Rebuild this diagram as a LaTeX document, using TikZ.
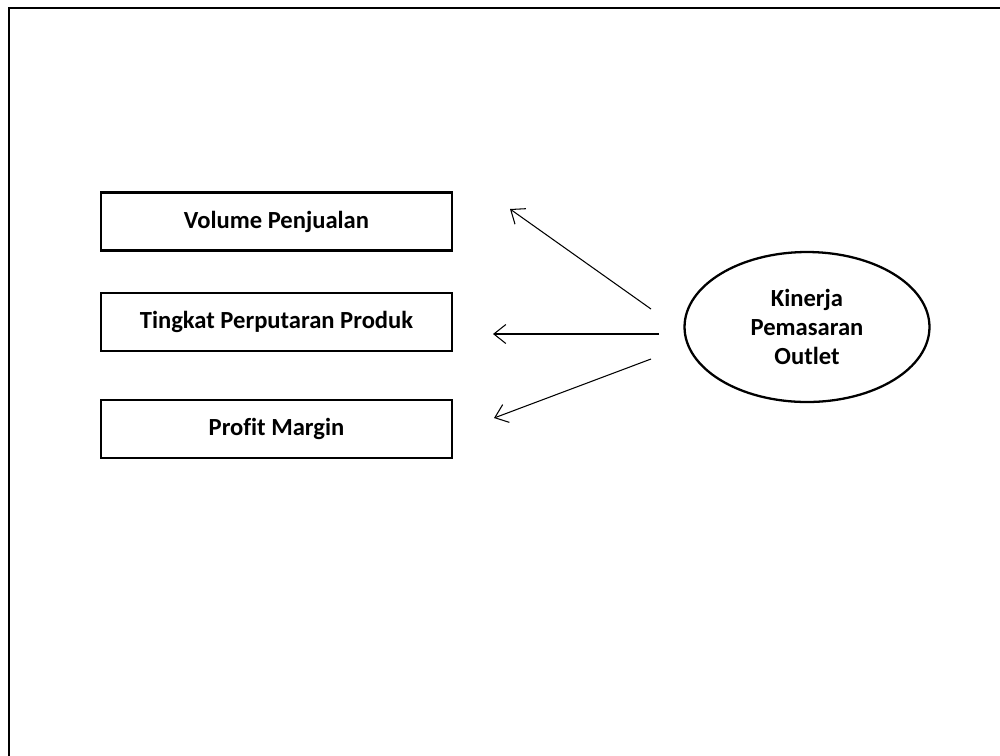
\documentclass[tikz,border=0pt]{standalone}
\usepackage{fontspec}
\setmainfont{Carlito}[Ligatures=NoCommon]
\usetikzlibrary{shapes.geometric, arrows.meta, positioning}
\tikzset{
    indbox/.style={rectangle, draw=black, line width=1.3pt, minimum width=7.02cm,
                   minimum height=1.16cm, align=center, font=\fontsize{14}{16}\selectfont\bfseries},
    latentoval/.style={ellipse, draw=black, line width=1.3pt, minimum width=4.9cm,
                       minimum height=3cm, align=center, font=\fontsize{14}{16.3}\selectfont\bfseries},
    arrow/.style={-{Straight Barb[length=2.4mm, width=3.8mm]}, line width=0.6pt},
}
\begin{document}
\begin{tikzpicture}[x=0.02cm, y=-0.02cm]
            \useasboundingbox (0,0) rectangle (1000,755);
            \clip (0,0) rectangle (1000,755);
            % outer frame
            \draw[line width=1.2pt] (9,8) rectangle (1020,780);

            % indicators
            \node[indbox] (volume) at (276.5,221.5) {Volume Penjualan};
            \node[indbox] (turnover) at (276.5,322) {Tingkat Perputaran Produk};
            \node[indbox] (profit) at (276.5,429) {Profit Margin};

            % latent variable
            \node[latentoval] (kinerja) at (807,327) {Kinerja\\Pemasaran\\Outlet};

            % arrow ends
            \coordinate (k1) at (651,309);
            \coordinate (k2) at (659,334);
            \coordinate (k3) at (651,359);
            \coordinate (v1) at (510,209);
            \coordinate (v2) at (493,334);
            \coordinate (v3) at (494,418);

            \draw[arrow] (k1) -- (v1);
            \draw[arrow] (k2) -- (v2);
            \draw[arrow] (k3) -- (v3);
        \end{tikzpicture}
\end{document}
